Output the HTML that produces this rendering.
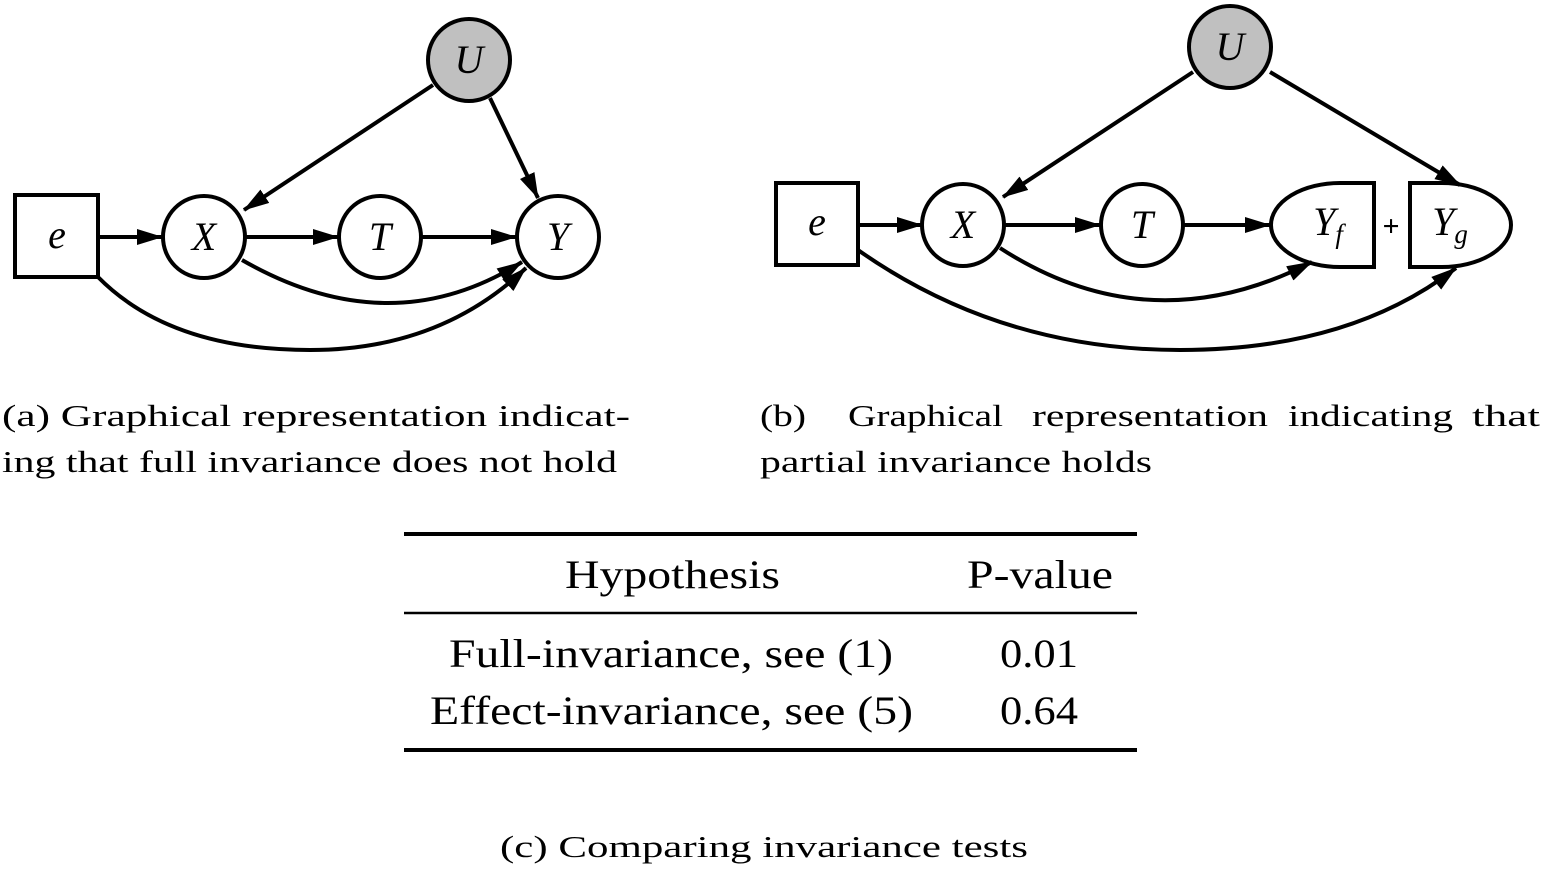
<!DOCTYPE html>
<html><head><meta charset="utf-8"><style>
body{margin:0;background:#fff;width:1544px;height:872px;overflow:hidden}
svg{position:absolute;left:0;top:0}
text{font-family:"Liberation Serif",serif;fill:#000}
</style></head><body>
<svg width="1544" height="872" viewBox="0 0 1544 872">
<defs>
<marker id="b" markerWidth="26" markerHeight="16" refX="25" refY="8" orient="auto" markerUnits="userSpaceOnUse" viewBox="0 0 26 16"><path d="M0,0 L26,8 L0,16 z" fill="#000"/></marker></defs>
<g stroke="#000" stroke-width="4" fill="none">
<rect x="15" y="195" width="83" height="82" fill="#fff"/>
<circle cx="204" cy="237" r="41" fill="#fff"/>
<circle cx="380" cy="237" r="41" fill="#fff"/>
<circle cx="558" cy="237" r="41" fill="#fff"/>
<circle cx="469" cy="60" r="41" fill="#c0c0c0"/>
<line x1="98" y1="237" x2="162" y2="237" marker-end="url(#b)"/>
<line x1="245" y1="237" x2="338" y2="237" marker-end="url(#b)"/>
<line x1="421" y1="237" x2="516" y2="237" marker-end="url(#b)"/>
<line x1="433" y1="85" x2="244" y2="210" marker-end="url(#b)"/>
<line x1="490" y1="98" x2="538" y2="198" marker-end="url(#b)"/>
<path d="M242,260 Q390,345 522,262" marker-end="url(#b)"/>
<path d="M98,277 Q170,350 310,350 Q440,350 526,268" marker-end="url(#b)"/>
<rect x="776" y="183" width="82" height="82" fill="#fff"/>
<circle cx="963" cy="225" r="41" fill="#fff"/>
<circle cx="1142" cy="225" r="41" fill="#fff"/>
<circle cx="1230" cy="47" r="41" fill="#c0c0c0"/>
<path d="M1374,183 L1374,267 L1340,267 A69,42 0 0 1 1340,183 Z" fill="#fff"/>
<path d="M1410,183 L1410,267 L1442,267 A69,42 0 0 0 1442,183 Z" fill="#fff"/>
<line x1="858" y1="225" x2="922" y2="225" marker-end="url(#b)"/>
<line x1="1004" y1="225" x2="1100" y2="225" marker-end="url(#b)"/>
<line x1="1183" y1="225" x2="1270" y2="225" marker-end="url(#b)"/>
<line x1="1193" y1="72" x2="1003" y2="197" marker-end="url(#b)"/>
<line x1="1270" y1="72" x2="1460" y2="185" marker-end="url(#b)"/>
<path d="M1000,248 Q1150,345 1312,262" marker-end="url(#b)"/>
<path d="M858,250 Q1000,350 1180,350 Q1350,350 1456,268" marker-end="url(#b)"/>
</g>
<g font-style="italic" font-size="40" text-anchor="middle">
<text x="57" y="248">e</text><text x="204" y="250">X</text><text x="380" y="250">T</text><text x="558" y="250">Y</text><text x="469" y="73">U</text>
<text x="817" y="235">e</text><text x="963" y="238">X</text><text x="1142" y="238">T</text><text x="1230" y="60">U</text>
<text x="1328" y="235">Y<tspan font-size="27" dy="8">f</tspan></text>
<text x="1450" y="235">Y<tspan font-size="27" dy="8">g</tspan></text>
</g>
<text x="1391" y="236" font-family="Liberation Sans" font-weight="bold" font-size="30" text-anchor="middle">+</text>
<g font-size="31" lengthAdjust="spacingAndGlyphs">
<text x="2" y="426" textLength="628" lengthAdjust="spacingAndGlyphs">(a)  Graphical representation indicat-</text>
<text x="2" y="472" textLength="615" lengthAdjust="spacingAndGlyphs">ing that full invariance does not hold</text>
<text x="760" y="426" textLength="46" lengthAdjust="spacingAndGlyphs">(b)</text>
<text x="848" y="426" textLength="155" lengthAdjust="spacingAndGlyphs">Graphical</text>
<text x="1032" y="426" textLength="236" lengthAdjust="spacingAndGlyphs">representation</text>
<text x="1288" y="426" textLength="165" lengthAdjust="spacingAndGlyphs">indicating</text>
<text x="1472" y="426" textLength="68" lengthAdjust="spacingAndGlyphs">that</text>
<text x="760" y="472" textLength="392" lengthAdjust="spacingAndGlyphs">partial invariance holds</text>
</g>
<g stroke="#000" stroke-width="4"><line x1="404" y1="534" x2="1137" y2="534"/><line x1="404" y1="750" x2="1137" y2="750"/></g>
<line x1="404" y1="613" x2="1137" y2="613" stroke="#000" stroke-width="2.5"/>
<g font-size="40">
<text x="565" y="588" textLength="215" lengthAdjust="spacingAndGlyphs">Hypothesis</text>
<text x="967" y="588" textLength="146" lengthAdjust="spacingAndGlyphs">P-value</text>
<text x="449" y="667" textLength="444" lengthAdjust="spacingAndGlyphs">Full-invariance, see (1)</text>
<text x="1000" y="667" textLength="78" lengthAdjust="spacingAndGlyphs">0.01</text>
<text x="430" y="724" textLength="483" lengthAdjust="spacingAndGlyphs">Effect-invariance, see (5)</text>
<text x="1000" y="724" textLength="78" lengthAdjust="spacingAndGlyphs">0.64</text>
</g>
<text x="500" y="857" font-size="31" textLength="528" lengthAdjust="spacingAndGlyphs">(c)  Comparing invariance tests</text>
</svg>
</body></html>
